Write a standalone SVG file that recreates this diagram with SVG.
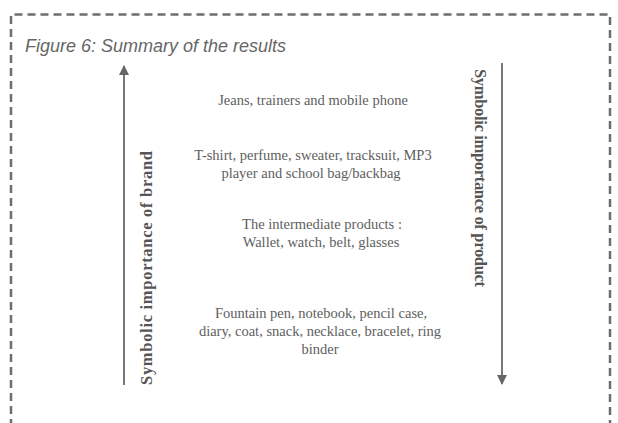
<svg xmlns="http://www.w3.org/2000/svg" width="618" height="423" viewBox="0 0 618 423">
<style>
.frame{fill:none;stroke:#6e6e6e;stroke-width:2.5;stroke-dasharray:8 5}
.title{font-family:"Liberation Sans",Arial,sans-serif;font-style:italic;font-size:18px;fill:#666}
.item{font-family:"Liberation Serif","Times New Roman",serif;font-size:14.5px;fill:#5e5e5e;text-anchor:middle}
.axis{font-family:"Liberation Serif","Times New Roman",serif;font-size:16.5px;font-weight:bold;fill:#555;text-anchor:middle}
.conn{stroke:#777;stroke-width:2;fill:none}
</style>
<defs>
<marker id="ah" viewBox="0 0 10 10" refX="9" refY="5" markerWidth="5" markerHeight="5" orient="auto" markerUnits="strokeWidth">
<path d="M0,0 L10,5 L0,10 z" fill="#666"/>
</marker>
</defs>
<path class="frame" d="M11,440 L11,14.5 L610,14.5 L610,440"/>
<text class="title" x="25" y="52">Figure 6: Summary of the results</text>
<g id="connectors">
<line class="conn" x1="124" y1="385" x2="124" y2="66" marker-end="url(#ah)"/>
<line class="conn" x1="502" y1="63" x2="502" y2="384" marker-end="url(#ah)"/>
</g>
<g id="axis-brand"><text class="axis" transform="translate(152,268) rotate(-90)" textLength="234" lengthAdjust="spacing">Symbolic importance of brand</text></g>
<g id="axis-product"><text class="axis" transform="translate(475,178) rotate(90)" textLength="218" lengthAdjust="spacing">Symbolic importance of product</text></g>
<g id="tier1"><text class="item" x="313" y="105">Jeans, trainers and mobile phone</text></g>
<g id="tier2"><text class="item" x="313" y="160">T-shirt, perfume, sweater, tracksuit, MP3</text><text class="item" x="311" y="178">player and school bag/backbag</text></g>
<g id="tier3"><text class="item" x="322" y="229">The intermediate products :</text><text class="item" x="321" y="247">Wallet, watch, belt, glasses</text></g>
<g id="tier4"><text class="item" x="321" y="318">Fountain pen, notebook, pencil case,</text><text class="item" x="320" y="336">diary, coat, snack, necklace, bracelet, ring</text><text class="item" x="320" y="354">binder</text></g>
</svg>
